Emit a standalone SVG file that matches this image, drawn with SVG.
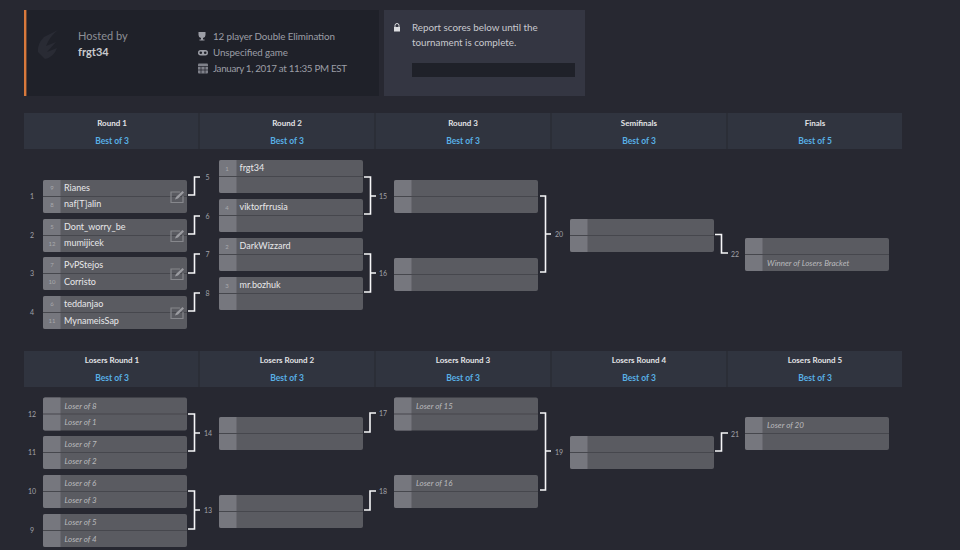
<svg xmlns="http://www.w3.org/2000/svg" width="960" height="550" viewBox="0 0 960 550">
<defs>
<style>
text{font-family:"Lato","Noto Sans","Liberation Sans",sans-serif}
.box{fill:#5a5b61}.seedbg{fill:#76777e}.sep{stroke:#46474d;stroke-width:1}
.p{font-size:9px;fill:#e8e8ea}
.s{font-size:6px;fill:#a8a9ad;text-anchor:middle}
.pl{font-size:8px;fill:#b9babd;font-style:italic}
.n{font-size:7px;fill:#a0a1a8;text-anchor:middle}
.c{fill:none;stroke:#f6f6f8;stroke-width:1.6}
.rt{font-size:8px;font-weight:700;fill:#e2e3e6;text-anchor:middle}
.bo{font-size:8.500px;font-weight:700;fill:#58b0e6;text-anchor:middle}
.d{font-size:9.800px;fill:#9c9ea6}
.div{stroke:#272831;stroke-width:1}
.ed{fill:none;stroke:#86878c;stroke-width:1.2}
.r{font-size:9.800px;fill:#c8c9ce}
</style>
<g id="m"><rect class="box" width="144" height="33" rx="2"/><path class="seedbg" d="M2 0H17.500V33H2a2 2 0 0 1-2-2V2a2 2 0 0 1 2-2z"/><line class="sep" x1="0" x2="144" y1="16.500" y2="16.500"/></g>
<g id="e"><path class="ed" d="M10 2H1V12.500H13V6"/><path d="M5 9.500L6 7L12.500 1L14 2.500L8 8.500z" fill="#9a9ba0"/></g>
</defs>
<rect width="960" height="550" fill="#272831"/>
<g id="host">
<rect x="24" y="10" width="355" height="86" fill="#1f2129"/>
<rect x="24" y="10" width="2.400" height="86" fill="#d8793c"/>
<path d="M58 30L44 37Q37 44 38 52L45 59Q54 57 57 48L47 52L56 42L46 46Q50 36 58 30z" fill="#292b34"/>
<text x="78" y="40" font-size="11" fill="#8d8f96">Hosted by</text>
<text x="78" y="56" font-size="11" font-weight="700" fill="#c9cace">frgt34</text>
<path d="M198.500 32H205.500V35Q205.500 37.500 203 38V39.500H204.500V40.500H199.500V39.500H201V38Q198.500 37.500 198.500 35z" fill="#9c9ea6"/>
<rect x="198" y="50" width="10" height="5.500" rx="2.700" fill="#9c9ea6"/>
<circle cx="200.800" cy="52.700" r="1.300" fill="#1f2129"/>
<circle cx="205.200" cy="52.700" r="1.300" fill="#1f2129"/>
<rect x="198" y="63.500" width="10" height="10" rx="1" fill="#7f818a"/>
<path d="M198 66.500H208M201 66.500V73.500M205 66.500V73.500M198 70H208" stroke="#1f2129" stroke-width="0.700" fill="none"/>
<text class="d" x="213" y="40" textLength="122">12 player Double Elimination</text>
<text class="d" x="213" y="56" textLength="75">Unspecified game</text>
<text class="d" x="213" y="72" textLength="134">January 1, 2017 at 11:35 PM EST</text>
</g>
<g id="report">
<rect x="384" y="10" width="201" height="86" fill="#343642"/>
<rect x="394" y="27" width="6" height="4.500" fill="#dcdde0"/>
<path d="M395 27V25.500a2 2 0 0 1 4 0V27" fill="none" stroke="#dcdde0" stroke-width="1"/>
<text class="r" x="412" y="31">Report scores below until the</text>
<text class="r" x="412" y="46">tournament is complete.</text>
<rect x="412" y="63" width="163" height="14" fill="#1f2129"/>
</g>
<g id="winners-header">
<rect x="24" y="113" width="878" height="36" fill="#30343f"/>
<path class="div" d="M199 113V149M375 113V149M551 113V149M727 113V149"/>
<text class="rt" x="112" y="126">Round 1</text><text class="rt" x="287" y="126">Round 2</text><text class="rt" x="463" y="126">Round 3</text><text class="rt" x="639" y="126">Semifinals</text><text class="rt" x="815" y="126">Finals</text>
<text class="bo" x="112" y="144">Best of 3</text><text class="bo" x="287" y="144">Best of 3</text><text class="bo" x="463" y="144">Best of 3</text><text class="bo" x="639" y="144">Best of 3</text><text class="bo" x="815" y="144">Best of 5</text>
</g>
<g id="losers-header">
<rect x="24" y="351" width="878" height="36" fill="#30343f"/>
<path class="div" d="M199 351V387M375 351V387M551 351V387M727 351V387"/>
<text class="rt" x="112" y="363">Losers Round 1</text><text class="rt" x="287" y="363">Losers Round 2</text><text class="rt" x="463" y="363">Losers Round 3</text><text class="rt" x="639" y="363">Losers Round 4</text><text class="rt" x="815" y="363">Losers Round 5</text>
<text class="bo" x="112" y="381">Best of 3</text><text class="bo" x="287" y="381">Best of 3</text><text class="bo" x="463" y="381">Best of 3</text><text class="bo" x="639" y="381">Best of 3</text><text class="bo" x="815" y="381">Best of 3</text>
</g>
<g id="connectors">
<path class="c" d="M188 195H194.500V177H200M188 234H194.500V216H200M188 273H194.500V254H200M188 311H194.500V293H200"/>
<path class="c" d="M364 177H370.500V214H364M370.500 196H376M364 254H370.500V292H364M370.500 273H376"/>
<path class="c" d="M540 196H545.500V272H540M545.500 234H551"/>
<path class="c" d="M715 234.500H721.500V253H728"/>
<path class="c" d="M188 414H194.500V451H188M194.500 433H200M188 491H194.500V529H188M194.500 510H200"/>
<path class="c" d="M364 432H370V413H376M364 510H370V491H376"/>
<path class="c" d="M540 413H545.500V490H540M545.500 451H551"/>
<path class="c" d="M715 451H721.500V433H728"/>
</g>
<g id="match-labels">
<text class="n" x="32" y="198.500">1</text><text class="n" x="32" y="237.500">2</text><text class="n" x="32" y="275.500">3</text><text class="n" x="32" y="314.500">4</text>
<text class="n" x="207.500" y="179.500">5</text><text class="n" x="207.500" y="218.500">6</text><text class="n" x="207.500" y="256.500">7</text><text class="n" x="207.500" y="295.500">8</text>
<text class="n" x="383" y="198.500">15</text><text class="n" x="383" y="275.500">16</text><text class="n" x="559" y="236.500">20</text><text class="n" x="735" y="256.500">22</text>
<text class="n" x="32" y="416.500">12</text><text class="n" x="32" y="455">11</text><text class="n" x="32" y="493.500">10</text><text class="n" x="32" y="533">9</text>
<text class="n" x="208" y="435.500">14</text><text class="n" x="208" y="513">13</text><text class="n" x="383" y="416">17</text><text class="n" x="383" y="494">18</text><text class="n" x="559" y="454.500">19</text><text class="n" x="735" y="436.500">21</text>
</g>
<g id="match-1"><use href="#m" x="43" y="180"/><text class="s" x="52" y="190">9</text><text class="p" x="64" y="191">Rianes</text><text class="s" x="52" y="206.500">8</text><text class="p" x="64" y="207">naf[T]alin</text><use href="#e" x="170" y="190"/></g>
<g id="match-2"><use href="#m" x="43" y="219"/><text class="s" x="52" y="229">5</text><text class="p" x="64" y="230">Dont_worry_be</text><text class="s" x="52" y="245.500">12</text><text class="p" x="64" y="246">mumijicek</text><use href="#e" x="170" y="229"/></g>
<g id="match-3"><use href="#m" x="43" y="257"/><text class="s" x="52" y="267">7</text><text class="p" x="64" y="268">PvPStejos</text><text class="s" x="52" y="284">10</text><text class="p" x="64" y="285">Corristo</text><use href="#e" x="170" y="267"/></g>
<g id="match-4"><use href="#m" x="43" y="296"/><text class="s" x="52" y="306">6</text><text class="p" x="64" y="307">teddanjao</text><text class="s" x="52" y="322.500">11</text><text class="p" x="64" y="324">MynameisSap</text><use href="#e" x="170" y="306"/></g>
<g id="match-5"><use href="#m" x="219" y="160"/><text class="s" x="227" y="170.500">1</text><text class="p" x="239.500" y="171">frgt34</text></g>
<g id="match-6"><use href="#m" x="219" y="199"/><text class="s" x="227" y="209.500">4</text><text class="p" x="239.500" y="210">viktorfrrusia</text></g>
<g id="match-7"><use href="#m" x="219" y="238"/><text class="s" x="227" y="248.500">2</text><text class="p" x="239.500" y="249">DarkWizzard</text></g>
<g id="match-8"><use href="#m" x="219" y="277"/><text class="s" x="227" y="287.500">3</text><text class="p" x="239.500" y="288">mr.bozhuk</text></g>
<g id="match-15"><use href="#m" x="394" y="180"/></g>
<g id="match-16"><use href="#m" x="394" y="258"/></g>
<g id="match-20"><use href="#m" x="570" y="219"/></g>
<g id="match-22"><use href="#m" x="745" y="238"/><text class="pl" x="767" y="265.500">Winner of Losers Bracket</text></g>
<g id="match-12"><use href="#m" x="43" y="397.500"/><text class="pl" x="64.500" y="408.500">Loser of 8</text><text class="pl" x="64.500" y="425">Loser of 1</text></g>
<g id="match-11"><use href="#m" x="43" y="436"/><text class="pl" x="64.500" y="447">Loser of 7</text><text class="pl" x="64.500" y="463.500">Loser of 2</text></g>
<g id="match-10"><use href="#m" x="43" y="475"/><text class="pl" x="64.500" y="486">Loser of 6</text><text class="pl" x="64.500" y="502.500">Loser of 3</text></g>
<g id="match-9"><use href="#m" x="43" y="514"/><text class="pl" x="64.500" y="525">Loser of 5</text><text class="pl" x="64.500" y="541.500">Loser of 4</text></g>
<g id="match-14"><use href="#m" x="219" y="417"/></g>
<g id="match-13"><use href="#m" x="219" y="495"/></g>
<g id="match-17"><use href="#m" x="394" y="397.500"/><text class="pl" x="416" y="408.500">Loser of 15</text></g>
<g id="match-18"><use href="#m" x="394" y="475"/><text class="pl" x="416" y="486">Loser of 16</text></g>
<g id="match-19"><use href="#m" x="570" y="436"/></g>
<g id="match-21"><use href="#m" x="745" y="417"/><text class="pl" x="767" y="428">Loser of 20</text></g>
</svg>
